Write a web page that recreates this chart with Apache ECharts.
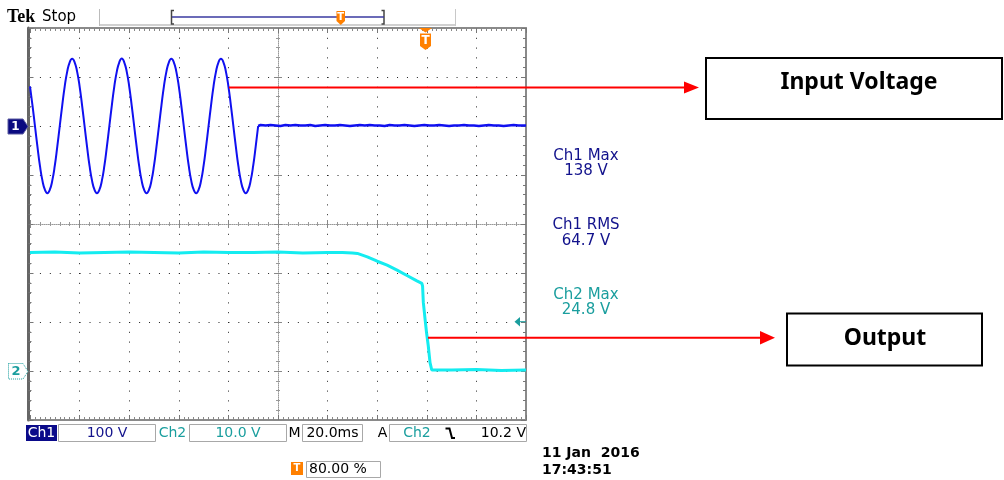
<!DOCTYPE html>
<html><head><meta charset="utf-8">
<script src="https://cdn.jsdelivr.net/npm/echarts@6/dist/echarts.min.js"></script>
<style>html,body{margin:0;padding:0;background:#fff}#c{width:1004px;height:480px}</style>
</head><body><div id="c"></div>
<script>
// ---- data (ms / volts) ----
const ch1SineTime = [0,1,2,3,4,5,6,7,8,9,10,11,12,13,14,15,16,17,18,19,20,21,22,23,24,25,26,27,28,29,30,31,32,33,34,35,36,37,38,39,40,41,42,43,44,45,46,47,48,49,50,51,52,53,54,55,56,57,58,59,60,61,62,63,64,65,66,67,68,69,70,71,72,73,74,75,76,77,78,79,80,81,82,83,84,85,86,87,88,89,90,91,92];
const ch1SineVolts = [81,42,0,-42,-81,-111,-130,-137,-130,-111,-81,-42,
  0,42,81,111,130,137,130,111,81,42,
  0,-42,-81,-111,-130,-137,-130,-111,-81,-42,
  0,42,81,111,130,138,130,111,81,42,
  0,-42,-81,-111,-130,-137,-130,-111,-81,-42,
  0,42,81,111,130,137,130,111,81,42,
  0,-42,-81,-111,-130,-137,-130,-111,-81,-42,
  0,42,81,111,130,137,130,111,81,42,
  0,-42,-81,-111,-130,-137,-130,-111,-81,-42,
  0];
const ch1FlatTime = [92,93,95,97,99,101,103,105,107,109,111,113,115,117,119,121,123,125,127,129,131,133,135,137,139,141,143,145,147,149,151,153,155,157,159,161,163,165,167,169,171,173,175,177,179,181,183,185,187,189,191,193,195,197,199,200];
const ch1FlatVolts = [0,2,1,2,1,0,2,1,2,1,1,2,0,1,2,1,1,2,1,0,1,2,1,2,1,1,0,2,1,1,2,1,0,1,2,1,1,2,1,0,1,1,2,1,1,0,1,2,1,1,0,1,2,1,1,1];
const ch2Time = [0,10,20,30,40,50,60,70,80,90,100,110,120,126,130,132,136,140,144,148,152,156,158,158.3,158.6,159.3,159.9,160.6,161.3,162,170,180,190,200];
const ch2Volts = [24.2,24.3,24.1,24.2,24.3,24.2,24.1,24.3,24.2,24.2,24.3,24.1,24.2,
  24.2,24.1,24.0,23.3,22.4,21.6,20.6,19.5,18.4,17.9,17.3,14.0,10.6,7.8,5.1,1.7,0.2,
  0.2,0.3,0.1,0.2];
const timeRange = [0, 200], timeDiv = 20;      // 20.0 ms/div
const ch1Range = [-600, 200], ch1Div = 100;    // 100 V/div, ground 2 div above centre
const ch2Range = [-10, 70], ch2Div = 10;       // 10.0 V/div, ground 3 div below centre
const statusTexts = {ch1Scale:'100 V', ch2Scale:'10.0 V', timebase:'20.0ms', trigLevel:'10.2 V', trigPos:'80.00 %'};
const measurements = [['Ch1 Max','138 V'],['Ch1 RMS','64.7 V'],['Ch2 Max','24.8 V']];
const dateText = ['11 Jan  2016','17:43:51'];

// ---- styling ----
const NAVY = '#12128c', TEAL = '#1a9e9e', ORANGE = '#ff8000';
const SANS = '"DejaVu Sans"';
const zip = (a,b) => a.map((t,i)=>[t,b[i]]);

function xAx(extra){
  return Object.assign({type:'value', min:timeRange[0], max:timeRange[1], interval:timeDiv,
    axisLabel:{show:false}, splitLine:{show:false},
    axisLine:{onZero:false, lineStyle:{color:'#8a8a8a', width:2}},
    axisTick:{inside:true, length:5, lineStyle:{color:'#777'}},
    minorTick:{show:true, splitNumber:10, length:3, lineStyle:{color:'#888'}}}, extra);
}
function yAx(range, div, extra){
  return Object.assign({type:'value', min:range[0], max:range[1], interval:div,
    axisLabel:{show:false}, splitLine:{show:false},
    axisLine:{onZero:false, lineStyle:{color:'#8a8a8a', width:2}},
    axisTick:{inside:true, length:5, lineStyle:{color:'#777'}},
    minorTick:{show:true, splitNumber:5, length:3, lineStyle:{color:'#777'}}}, extra);
}
const centreLine = {onZero:false, lineStyle:{color:'#999', width:1, type:[1,1]}};

const G = [];
function txt(text,x,y,font,fill,align,extra){G.push(Object.assign({type:'text',z:100,style:{text,x,y,font,fill,textAlign:align||'left',textVerticalAlign:'middle'}},extra||{}));}
function line(x1,y1,x2,y2,stroke,w){G.push({type:'line',z:100,shape:{x1,y1,x2,y2},style:{stroke,lineWidth:w||1}});}
function poly(points,fill,stroke,w,dash){G.push({type:'polygon',z:100,shape:{points},style:{fill,stroke:stroke||null,lineWidth:w||0,lineDash:dash||null}});}
function pline(points,stroke,w){G.push({type:'polyline',z:100,shape:{points},style:{stroke,lineWidth:w||1,fill:null}});}
function rect(x,y,w,h,fill,stroke,lw){G.push({type:'rect',z:99,shape:{x,y,width:w,height:h},style:{fill:fill||'#fff',stroke:stroke||null,lineWidth:lw||1}});}

// header
txt('Tek',7,17,'bold 18px "Liberation Serif"','#000');
txt('Stop',42,17,'15px '+SANS,'#000');
line(99.5,9,99.5,26,'#bbb',1);
line(100,25,455,25,'#d0d0d0',2);
line(455.5,9,455.5,26,'#c8c8c8',1);
pline([[174,10.5],[171.5,10.5],[171.5,24],[174,24]],'#444',1.5);
pline([[381.5,10.5],[384,10.5],[384,24],[381.5,24]],'#444',1.5);
line(172,17,384,17,'#3a3aa0',1.5);
poly([[336.5,11],[345,11],[345,21],[340.75,25],[336.5,21]],ORANGE);
txt('T',340.75,17,'bold 10px '+SANS,'#fff','center');
// trigger position marker on graticule
poly([[419,28],[432,28],[425.5,32.5]],ORANGE);
poly([[420,33.5],[431,33.5],[431,46],[425.5,50],[420,46]],ORANGE);
txt('T',425.5,41,'bold 12px '+SANS,'#fff','center');
// channel ground markers
poly([[8,119],[23,119],[28,126.5],[23,134],[8,134]],'#0a0a80','#5a5aa0',1);
txt('1',15.5,127,'bold 12px '+SANS,'#fff','center');
poly([[8.5,363.5],[23,363.5],[28,371.5],[23,379],[8.5,379]],'#fff',TEAL,1,[1,1]);
txt('2',16,371.5,'bold 13px '+SANS,TEAL,'center');
// trigger level arrow
poly([[514.5,321.7],[520,317],[520,326.5]],TEAL);
line(520,321.7,526,321.7,TEAL,1);
// measurements
measurements.forEach((m,i)=>{
  const col = i<2 ? NAVY : TEAL;
  txt(m[0],586,156+i*69.5,'15px '+SANS,col,'center');
  txt(m[1],586,171.5+i*69.5,'15px '+SANS,col,'center');
});
// status bar
rect(26,425,31,16,'#0a0a8a');
txt('Ch1',41.5,433.5,'14px '+SANS,'#fff','center');
rect(58.5,424.5,97,17,'#fff','#a8a8a8');
txt(statusTexts.ch1Scale,107,433.5,'14px '+SANS,NAVY,'center');
txt('Ch2',172.5,433.5,'14px '+SANS,TEAL,'center');
rect(189.5,424.5,97,17,'#fff','#a8a8a8');
txt(statusTexts.ch2Scale,238,433.5,'14px '+SANS,TEAL,'center');
txt('M',294.5,433.5,'14px '+SANS,'#000','center');
rect(302.5,424.5,60,17,'#fff','#a8a8a8');
txt(statusTexts.timebase,332.5,433.5,'14px '+SANS,'#000','center');
txt('A',382.5,433.5,'14px '+SANS,'#000','center');
rect(389.5,424.5,137,17,'#fff','#a8a8a8');
txt('Ch2',417,433.5,'14px '+SANS,TEAL,'center');
pline([[445.5,428.5],[449.5,428.5],[452,438],[455,438]],'#000',2);
txt(statusTexts.trigLevel,526,433.5,'14px '+SANS,'#000','right');
rect(291,462,12,13,ORANGE);
txt('T',297,468.5,'bold 10px '+SANS,'#fff','center');
rect(306.5,461.5,74,16,'#fff','#a8a8a8');
txt(statusTexts.trigPos,309,469.5,'14px '+SANS,'#000','left');
txt(dateText[0],542,453.5,'bold 14px '+SANS,'#000','left');
txt(dateText[1],542,470,'bold 14px '+SANS,'#000','left');
// callouts
line(229,87.5,686,87.5,'#ff0000',2);
poly([[684,81.5],[699,87.5],[684,93.5]],'#ff0000');
rect(706,58,296,61,'#fff','#000',2);
txt('Input Voltage',859,82,'bold 23px "Noto Sans"','#000','center');
line(428,337.7,762,337.7,'#ff0000',2);
poly([[760,331],[775,337.7],[760,344.5]],'#ff0000');
rect(787,313.5,195,52,'#fff','#000',2);
txt('Output',885,338,'bold 23px "Noto Sans"','#000','center');

const chart = echarts.init(document.getElementById('c'), null, {renderer:'canvas'});
chart.setOption({
  animation:false,
  backgroundColor:'#fff',
  grid:{left:30, top:28, width:496, height:392, containLabel:false},
  xAxis:[
    xAx({position:'bottom', splitLine:{show:true, lineStyle:{color:'#222', width:1, type:[1,8.8]}}}),
    xAx({position:'top'}),
    xAx({position:'bottom', offset:-196, axisLine:centreLine, axisTick:{inside:true,length:4,lineStyle:{color:'#888'}}, minorTick:{show:true,splitNumber:5,length:2,lineStyle:{color:'#999'}}}),
    xAx({position:'bottom', offset:-196, axisLine:{show:false}, axisTick:{inside:false,length:4,lineStyle:{color:'#888'}}, minorTick:{show:true,splitNumber:5,length:2,lineStyle:{color:'#999'}}})
  ],
  yAxis:[
    yAx(ch1Range, ch1Div, {position:'left', offset:1.5, axisLine:{onZero:false, lineStyle:{color:'#666', width:3}},
       splitLine:{show:true, lineStyle:{color:'#222', width:1, type:[1,8.92]}}}),
    yAx(ch2Range, ch2Div, {position:'right'}),
    yAx(ch1Range, ch1Div, {position:'left', offset:-248, axisLine:centreLine, axisTick:{inside:true,length:4,lineStyle:{color:'#888'}}, minorTick:{show:true,splitNumber:5,length:2,lineStyle:{color:'#999'}}}),
    yAx(ch1Range, ch1Div, {position:'left', offset:-248, axisLine:{show:false}, axisTick:{inside:false,length:4,lineStyle:{color:'#888'}}, minorTick:{show:true,splitNumber:5,length:2,lineStyle:{color:'#999'}}})
  ],
  series:[
    {type:'line', name:'Ch1', xAxisIndex:0, yAxisIndex:0, data:zip(ch1SineTime,ch1SineVolts), showSymbol:false, smooth:true,
     lineStyle:{color:'#1010f0', width:2}, z:10},
    {type:'line', name:'Ch1 flat', xAxisIndex:0, yAxisIndex:0, data:zip(ch1FlatTime,ch1FlatVolts), showSymbol:false,
     lineStyle:{color:'#1010f0', width:2.5}, z:10},
    {type:'line', name:'Ch2', xAxisIndex:0, yAxisIndex:1, data:zip(ch2Time,ch2Volts), showSymbol:false,
     lineStyle:{color:'#14ecf0', width:3}, z:10}
  ],
  graphic:G
});
</script></body></html>
